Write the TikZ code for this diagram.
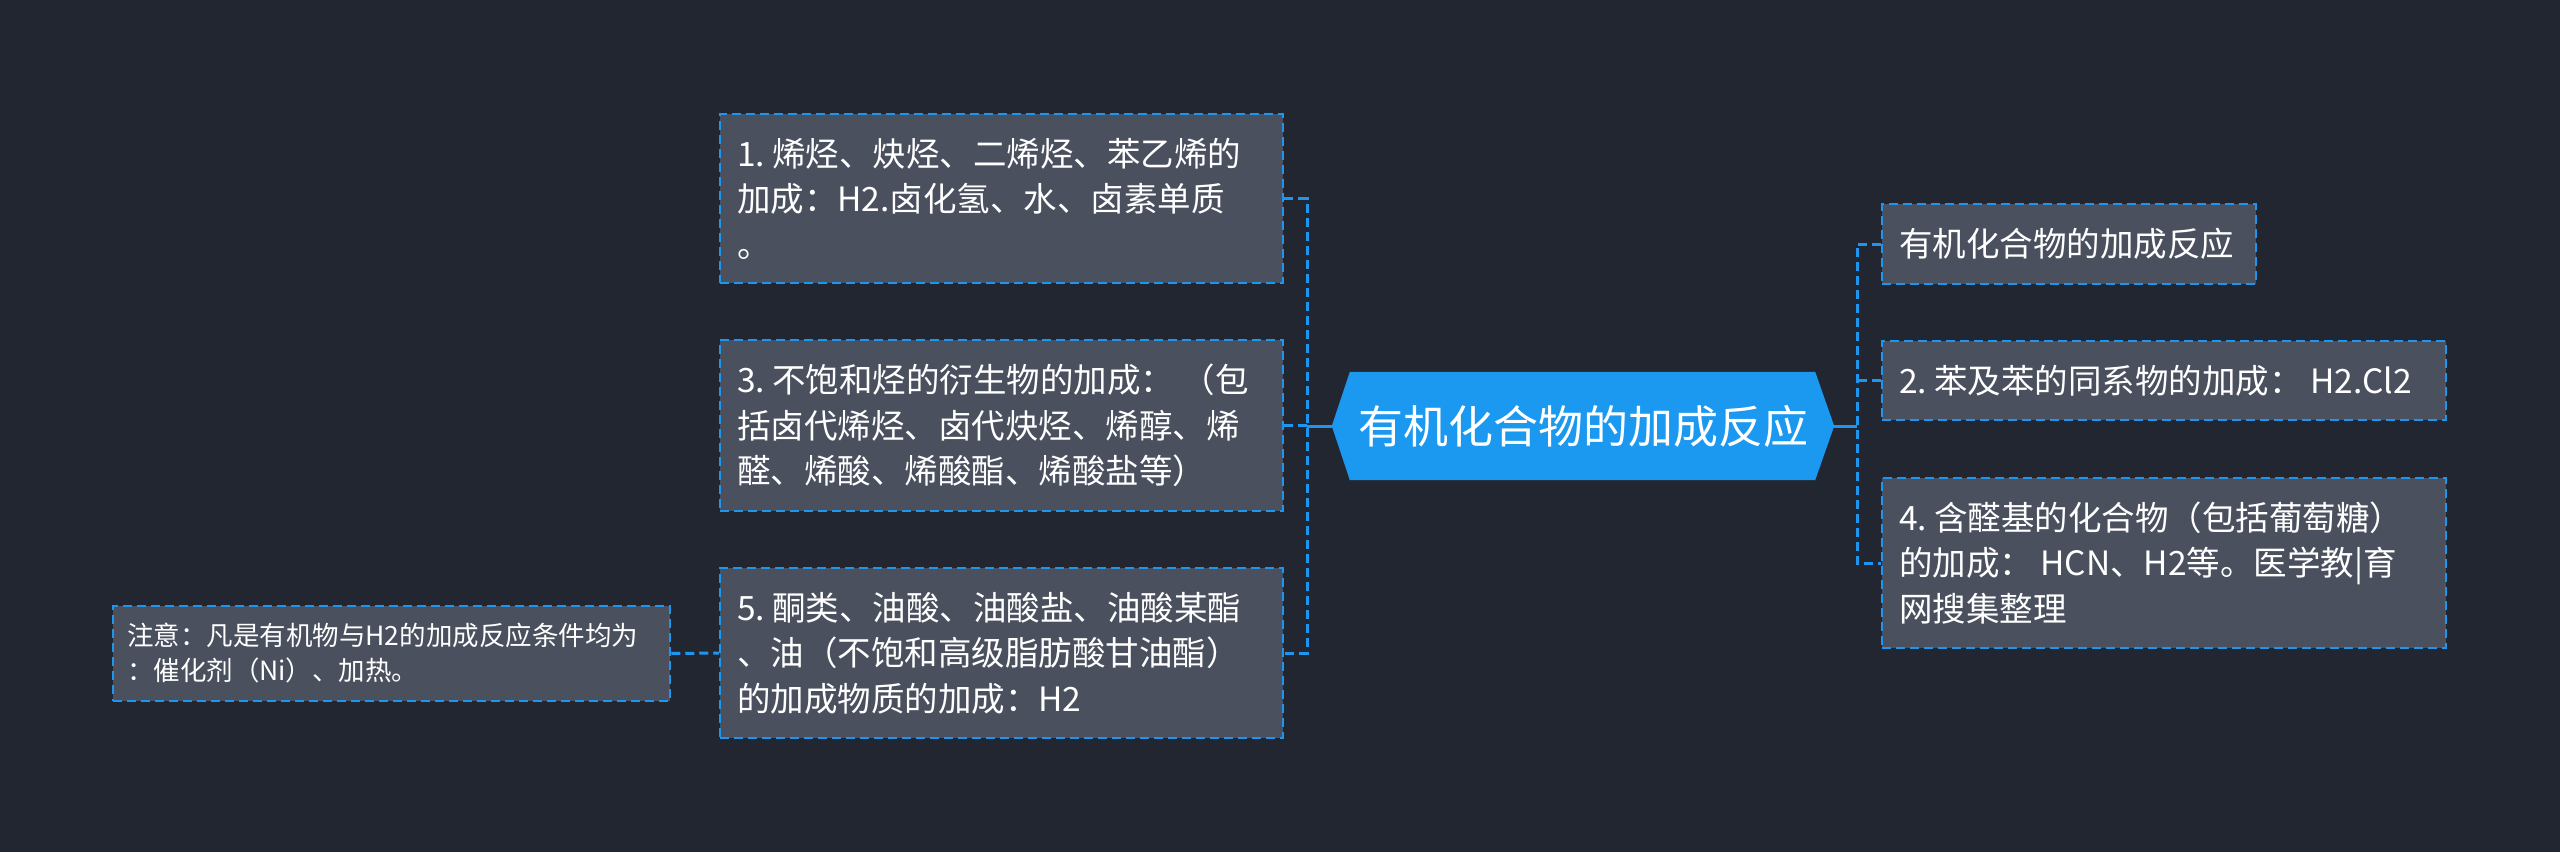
\documentclass[tikz,border=0pt]{standalone}
\usepackage{fontspec}
\setmainfont{Noto Sans CJK SC}
\definecolor{bgc}{HTML}{222631}
\definecolor{boxc}{HTML}{4A505E}
\definecolor{bluec}{HTML}{1E96F0}
\definecolor{hexc}{HTML}{1B98F0}
\newcommand{\nsp}{\kern0.22em}
\tikzset{
  leaf/.style={draw=bluec, fill=boxc, line width=2.5pt, dash pattern=on 9pt off 5pt,
    text=white, align=left, inner xsep=17pt, inner ysep=0pt,
    font=\fontsize{33.5}{45.5}\selectfont},
  notebox/.style={leaf, inner xsep=14pt, font=\fontsize{26.5}{35}\selectfont},
  conn/.style={draw=bluec, line width=3pt, dash pattern=on 9pt off 5pt},
  solidconn/.style={draw=bluec, line width=3pt},
}
\begin{document}
\begin{tikzpicture}[x=1pt,y=-1pt]
\fill[bgc] (0,0) rectangle (2560,852);
\useasboundingbox (0,0) rectangle (2560,852);

% center hexagon
\node[minimum width=502pt, minimum height=108pt, inner sep=0pt] (c) at (1583,426) {};
\fill[hexc] (c.west) -- ([xshift=18pt]c.north west) -- ([xshift=-19pt]c.north east)
  -- (c.east) -- ([xshift=-19pt]c.south east) -- ([xshift=18pt]c.south west) -- cycle;
\node[text=white, font=\fontsize{45}{54}\selectfont, inner sep=0pt] (ct) at (c.center) {有机化合物的加成反应};

% left boxes
\node[leaf, minimum width=563pt, minimum height=169pt, text width=529pt] (b1) at (1001.5,198.5)
  {1.\nsp 烯烃、炔烃、二烯烃、苯乙烯的\\加成：H2.卤化氢、水、卤素单质\\。};
\node[leaf, minimum width=563pt, minimum height=171pt, text width=529pt] (b3) at (1001.5,425.5)
  {3.\nsp 不饱和烃的衍生物的加成：\nsp（包\\括卤代烯烃、卤代炔烃、烯醇、烯\\醛、烯酸、烯酸酯、烯酸盐等）};
\node[leaf, minimum width=563pt, minimum height=170pt, text width=529pt] (b5) at (1001.5,653)
  {5.\nsp 酮类、油酸、油酸盐、油酸某酯\\、油（不饱和高级脂肪酸甘油酯）\\的加成物质的加成：H2};
\node[notebox, minimum width=557pt, minimum height=95pt, text width=529pt] (nt) at (391.5,653.5)
  {注意：凡是有机物与H2的加成反应条件均为\\：催化剂（Ni）、加热。};

% right boxes
\node[leaf, minimum width=374pt, minimum height=80pt, text width=340pt] (r1) at (2069,244)
  {有机化合物的加成反应};
\node[leaf, minimum width=564pt, minimum height=79pt, text width=530pt] (r2) at (2164,380.5)
  {2.\nsp 苯及苯的同系物的加成：\nsp H2.Cl2};
\node[leaf, minimum width=564pt, minimum height=170pt, text width=530pt] (r3) at (2164,563)
  {4.\nsp 含醛基的化合物（包括葡萄糖）\\的加成：\nsp HCN、H2等。医学教|育\\网搜集整理};

% connectors
\coordinate (spL) at (1307,426);
\coordinate (spR) at (1857,426);
\draw[solidconn] (c.west) -- (spL);
\draw[conn] (b1.east) -- (b1.east -| spL) -- (b5.east -| spL) -- (b5.east);
\draw[conn] (b3.east) -- (b3.east -| spL);
\draw[solidconn] (c.east) -- (spR);
\draw[conn] (r1.west) -- (r1.west -| spR) -- (r3.west -| spR) -- (r3.west);
\draw[conn] (r2.west) -- (r2.west -| spR);
\draw[conn] (nt.east) -- (b5.west);
\end{tikzpicture}
\end{document}
